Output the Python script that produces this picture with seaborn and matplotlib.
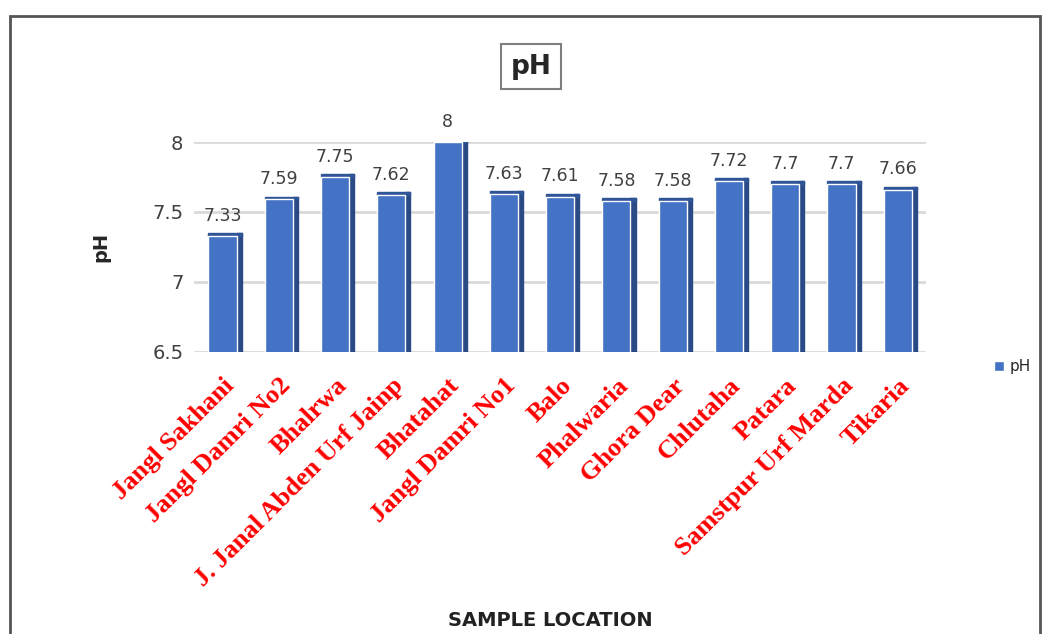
import pandas as pd
import seaborn as sns
import matplotlib.pyplot as plt

locations = ["Jangl Sakhani", "Jangl Damri No2", "Bhalrwa", "J. Janal Abden Urf Jainp",
             "Bhatahat", "Jangl Damri No1", "Balo", "Phalwaria", "Ghora Dear",
             "Chlutaha", "Patara", "Samstpur Urf Marda", "Tikaria"]
ph_values = [7.33, 7.59, 7.75, 7.62, 8, 7.63, 7.61, 7.58, 7.58, 7.72, 7.7, 7.7, 7.66]
y_ticks = [6.5, 7, 7.5, 8]

df = pd.DataFrame({"Location": locations, "pH": ph_values})

sns.set_style("white")
fig = plt.figure(figsize=(10.45, 6.34), dpi=100)
ax = fig.add_axes([0.186, 0.445, 0.70, 0.331])

# gridlines first so the bars sit on top
for t in y_ticks:
    ax.axhline(t, color="#d9d9d9", lw=2, zorder=0)

sns.barplot(data=df, x="Location", y="pH", color="#4472C4", width=0.5,
            saturation=1, ax=ax, zorder=3, label="pH")

# fake 3D: dark side face on each bar
for p in ax.patches:
    x0, w, h = p.get_x(), p.get_width(), p.get_height()
    ax.add_patch(plt.Rectangle((x0 + w, 6.5), w * 0.18, h - 6.5 + 0.02,
                               color="#2a4a85", zorder=2.9))
    ax.add_patch(plt.Rectangle((x0, h), w * 1.18, 0.02,
                               color="#2f5597", zorder=2.9))

for i, v in enumerate(ph_values):
    ax.text(i, v + 0.08, f"{v:g}", ha="center", va="bottom",
            fontsize=12.5, color="#404040")

ax.set_ylim(6.5, 8)
ax.set_yticks(y_ticks)
ax.set_yticklabels([f"{t:g}" for t in y_ticks], fontsize=14, color="#404040")
ax.set_xlim(-0.5, len(locations) - 0.5)
ax.set_xticks(range(len(locations)))
ax.set_xticklabels(locations, rotation=45, ha="right", rotation_mode="anchor",
                   fontsize=19, color="red", family="Liberation Serif",
                   fontweight="bold")
ax.tick_params(axis="x", length=0, pad=16)
ax.tick_params(axis="y", length=0, pad=8)
ax.set_xlabel("")
sns.despine(ax=ax, left=True, bottom=True)

ax.set_ylabel("pH", fontsize=14, fontweight="bold", labelpad=30)
fig.text(0.527, 0.012, "SAMPLE LOCATION", ha="center", fontsize=14,
         fontweight="bold", color="#222222")

fig.text(0.508, 0.895, "pH", ha="center", va="center", fontsize=19,
         fontweight="bold",
         bbox=dict(boxstyle="square,pad=0.35", fc="white", ec="#7f7f7f", lw=1.5))

ax.legend(loc="center left", bbox_to_anchor=(1.075, -0.07), frameon=False,
          fontsize=11, handlelength=0.6, handleheight=0.6, handletextpad=0.4)

# outer frame
fig.add_artist(plt.Rectangle((0.01, -0.02), 0.985, 0.995, transform=fig.transFigure,
                             fill=False, ec="#555555", lw=2))

fig.savefig("out.png", dpi=100)
